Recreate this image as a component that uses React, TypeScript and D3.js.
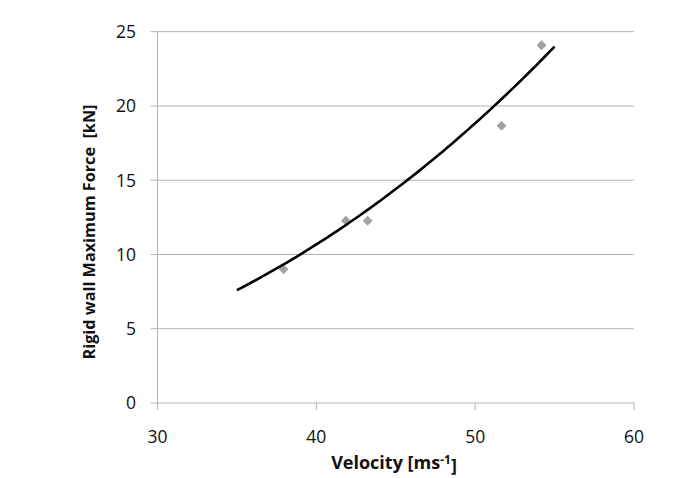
import React from "react";
import * as d3 from "d3";

const velocities = [37.94, 41.86, 43.23, 51.66, 54.18];
const forces = [9.0, 12.27, 12.27, 18.66, 24.09];
const xTicks = [30, 40, 50, 60];
const yTicks = [0, 5, 10, 15, 20, 25];
// power trendline y = a * x^b
const trendStart = 35;
const trendEnd = 55;
const trendStartValue = 7.6;
const trendEndValue = 24.0;

const W = 691;
const H = 478;
const left = 157.5;
const right = 634;
const top = 31.7;
const bottom = 403;

export default function App() {
  const x = d3.scaleLinear().domain([30, 60]).range([left, right]);
  const y = d3.scaleLinear().domain([0, 25]).range([bottom, top]);

  const b = Math.log(trendEndValue / trendStartValue) / Math.log(trendEnd / trendStart);
  const a = trendStartValue / Math.pow(trendStart, b);
  const trendXs = d3.range(trendStart, trendEnd + 0.001, 0.25);
  const line = d3
    .line<number>()
    .x((v) => x(v))
    .y((v) => y(a * Math.pow(v, b)));

  const diamond = d3.symbol().type(d3.symbolDiamond2).size(62)();
  const font = "'Open Sans', 'Liberation Sans', sans-serif";
  const grid = "#b3b3b3";

  return (
    <svg
      width={W}
      height={H}
      style={{ position: "absolute", left: 0, top: 0, background: "#fff" }}
      fontFamily={font}
    >
      {yTicks.map((t) => (
        <g key={"y" + t}>
          <line x1={left - 7} x2={right} y1={y(t)} y2={y(t)} stroke={grid} strokeWidth={1} />
          <text x={136} y={y(t)} dy="0.36em" textAnchor="end" fontSize={17.5} fill="#111">
            {t}
          </text>
        </g>
      ))}
      <line x1={left} x2={left} y1={top} y2={bottom} stroke={grid} strokeWidth={1} />
      {xTicks.map((t) => (
        <g key={"x" + t}>
          <line x1={x(t)} x2={x(t)} y1={bottom} y2={bottom + 7} stroke={grid} strokeWidth={1} />
          <text x={x(t)} y={437} dy="0.36em" textAnchor="middle" fontSize={17.5} fill="#111">
            {t}
          </text>
        </g>
      ))}
      {velocities.map((v, i) => (
        <path
          key={"p" + i}
          d={diamond}
          transform={`translate(${x(v)},${y(forces[i])})`}
          fill="#a3a3a3"
        />
      ))}
      <path d={line(trendXs) || ""} fill="none" stroke="#000" strokeWidth={2.6} />
      <text x={394} y={463} dy="0.36em" textAnchor="middle" fontSize={18} fontWeight="bold" fill="#111">
        Velocity [ms
        <tspan dy="-0.45em" fontSize={12}>-1</tspan>
        <tspan dy="0.45em">]</tspan>
      </text>
      <text
        transform={`translate(89,232) rotate(-90)`}
        textAnchor="middle"
        dy="0.36em"
        fontSize={16.5}
        fontWeight="bold"
        fill="#111"
        textLength={255}
        lengthAdjust="spacingAndGlyphs"
        style={{ whiteSpace: "pre" }}
      >
        {"Rigid wall Maximum Force  [kN]"}
      </text>
    </svg>
  );
}
